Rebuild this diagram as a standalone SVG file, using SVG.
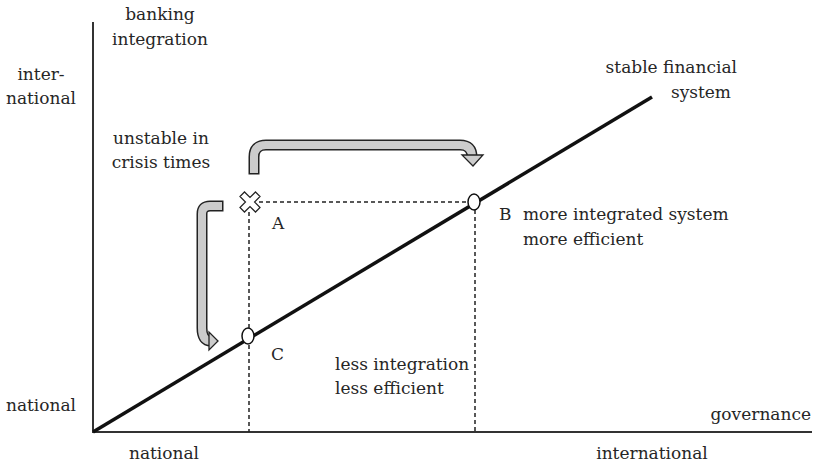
<svg xmlns="http://www.w3.org/2000/svg" width="825" height="466" viewBox="0 0 825 466">
<style>
text{font-family:"DejaVu Serif","Liberation Serif",serif;font-size:17px;fill:#262626}
.axis{stroke:#333;stroke-width:2;fill:none}
.dash{stroke:#222;stroke-width:1.5;stroke-dasharray:4 3;fill:none}
.diag{stroke:#111;stroke-width:3.5;fill:none}
.pt{fill:#fff;stroke:#111;stroke-width:1.5}
.aout{stroke:#222;stroke-width:11;fill:none}
.ain{stroke:#ccc;stroke-width:8;fill:none}
.ahead{fill:#ccc;stroke:#222;stroke-width:1.3;stroke-linejoin:miter}
</style>
<rect width="825" height="466" fill="#fff"/>
<g id="axes">
<line class="axis" x1="93" y1="22" x2="93" y2="433"/>
<line class="axis" x1="92" y1="432" x2="812" y2="432"/>
</g>
<g id="connectors">
<line class="dash" x1="259" y1="202" x2="468" y2="202"/>
<line class="dash" x1="249" y1="212" x2="249" y2="432"/>
<line class="dash" x1="475" y1="210" x2="475" y2="432"/>
<line class="diag" x1="93" y1="432" x2="652" y2="97"/>
<g id="arrow-top">
<path class="aout" d="M254,174.5 V157 Q254,145 266,145 H460 Q472,145 472,157 V156"/>
<path class="ain" d="M254,173 V157 Q254,145 266,145 H460 Q472,145 472,157 V157"/>
<polygon class="ahead" points="462,155 483,155 473,166"/>
</g>
<g id="arrow-left">
<path class="aout" d="M223.5,206 H210 Q202,206 202,214 V328 Q202,341 211,341"/>
<path class="ain" d="M222,206 H210 Q202,206 202,214 V328 Q202,341 211,341"/>
<polygon class="ahead" points="209,332 209,350 218,341"/>
</g>
</g>
<g id="node-A">
<polygon points="-3.2,-11 3.2,-11 3.2,-3.2 11,-3.2 11,3.2 3.2,3.2 3.2,11 -3.2,11 -3.2,3.2 -11,3.2 -11,-3.2 -3.2,-3.2" transform="translate(250,202) rotate(45)" fill="#fff" stroke="#222" stroke-width="1.2"/>
<text x="272" y="229">A</text>
</g>
<g id="node-B">
<ellipse class="pt" cx="474" cy="202" rx="6" ry="8"/>
<text x="499" y="220">B</text>
<text x="523" y="220">more integrated system</text>
<text x="523" y="245">more efficient</text>
</g>
<g id="node-C">
<ellipse class="pt" cx="248" cy="336" rx="6" ry="8"/>
<text x="271" y="360">C</text>
<text x="335" y="370">less integration</text>
<text x="335" y="394">less efficient</text>
</g>
<g id="labels">
<text x="160" y="20" text-anchor="middle">banking</text>
<text x="160" y="45" text-anchor="middle">integration</text>
<text x="41" y="80" text-anchor="middle">inter-</text>
<text x="41" y="104" text-anchor="middle">national</text>
<text x="41" y="411" text-anchor="middle">national</text>
<text x="161" y="144" text-anchor="middle">unstable in</text>
<text x="161" y="168" text-anchor="middle">crisis times</text>
<text x="737" y="73" text-anchor="end">stable financial</text>
<text x="731" y="98" text-anchor="end">system</text>
<text x="811" y="420" text-anchor="end">governance</text>
<text x="164" y="459" text-anchor="middle">national</text>
<text x="652" y="459" text-anchor="middle">international</text>
</g>
</svg>
